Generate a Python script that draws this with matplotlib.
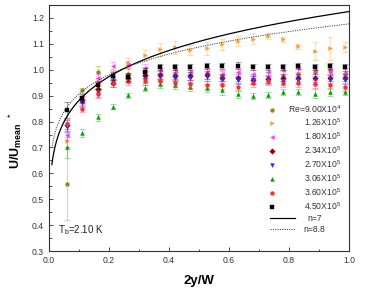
import numpy as np
import matplotlib
matplotlib.use("Agg")
import matplotlib.pyplot as plt
from matplotlib.legend_handler import HandlerLine2D

plt.rcParams["font.family"] = ["Liberation Sans", "DejaVu Sans"]
plt.rcParams["mathtext.fontset"] = "custom"
plt.rcParams["mathtext.rm"] = "Liberation Sans"
plt.rcParams["mathtext.bf"] = "Liberation Sans:bold"
plt.rcParams["mathtext.it"] = "Liberation Sans:italic"

x = [0.06, 0.11, 0.165, 0.215, 0.265, 0.32, 0.37, 0.42, 0.47, 0.525,
     0.575, 0.63, 0.68, 0.73, 0.78, 0.83, 0.885, 0.935, 0.985]

labels = ["Re=9.00X10$^4$", "1.26X10$^5$", "1.80X10$^5$", "2.34X10$^5$",
          "2.70X10$^5$", "3.06X10$^5$", "3.60X10$^5$", "4.50X10$^5$"]

re090 = [0.56, 0.92, 0.99, 0.977, 0.985, 0.99, 0.985, 0.985, 0.98, 0.985,
         0.975, 0.97, 0.965, 0.97, 0.976, 0.985, 0.99, 0.999, 0.985]
re126 = [0.725, 0.88, 0.95, 0.98, 1.025, 1.055, 1.079, 1.087, 1.076, 1.083,
         1.098, 1.110, 1.120, 1.130, 1.117, 1.090, 1.072, 1.082, 1.088]
re180 = [0.75, 0.875, 0.969, 1.016, 1.018, 1.008, 0.998, 0.998, 0.99, 0.993,
         0.985, 0.99, 0.985, 0.99, 1.0, 1.005, 1.0, 0.99, 0.986]
re234 = [0.785, 0.885, 0.925, 0.95, 0.967, 0.98, 0.98, 0.975, 0.975, 0.98,
         0.97, 0.97, 0.96, 0.965, 0.97, 0.97, 0.967, 0.97, 0.97]
re270 = [0.78, 0.87, 0.91, 0.955, 0.965, 0.965, 0.972, 0.97, 0.968, 0.972,
         0.965, 0.96, 0.96, 0.96, 0.955, 0.96, 0.96, 0.965, 0.96]
re306 = [0.70, 0.755, 0.816, 0.857, 0.902, 0.93, 0.945, 0.94, 0.932, 0.93,
         0.922, 0.905, 0.90, 0.903, 0.913, 0.915, 0.908, 0.913, 0.913]
re360 = [0.79, 0.85, 0.905, 0.947, 0.955, 0.955, 0.955, 0.95, 0.945, 0.94,
         0.94, 0.932, 0.948, 0.955, 0.95, 0.95, 0.945, 0.94, 0.934]
re450 = [0.845, 0.89, 0.94, 0.975, 0.972, 0.99, 1.01, 1.012, 1.012, 1.014,
         1.015, 1.016, 1.012, 1.012, 1.012, 1.014, 1.012, 1.015, 1.009]

err090 = [0.14, 0.01, 0.025, 0.02, 0.02, 0.02, 0.02, 0.02, 0.02, 0.02,
          0.02, 0.02, 0.02, 0.02, 0.02, 0.02, 0.02, 0.02, 0.02]
err126 = [0.03, 0.02, 0.02, 0.02, 0.02, 0.02, 0.025, 0.025, 0.02, 0.025,
          0.02, 0.02, 0.02, 0.012, 0.01, 0.01, 0.035, 0.045, 0.02]
err_small = [0.02, 0.015, 0.015, 0.015, 0.015, 0.015, 0.015, 0.015, 0.015, 0.015,
             0.015, 0.015, 0.015, 0.015, 0.015, 0.015, 0.015, 0.015, 0.015]
err306 = [0.04, 0.015, 0.015, 0.01, 0.01, 0.012, 0.015, 0.015, 0.015, 0.015,
          0.02, 0.015, 0.012, 0.012, 0.012, 0.012, 0.018, 0.015, 0.012]
err450 = [0.03, 0.015, 0.015, 0.015, 0.015, 0.015, 0.012, 0.012, 0.012, 0.012,
          0.012, 0.012, 0.012, 0.012, 0.012, 0.012, 0.012, 0.012, 0.012]

series = [re090, re126, re180, re234, re270, re306, re360, re450]
errors = [err090, err126, err_small, err_small, err_small, err306, err_small, err450]
colors = ["#8c8c1e", "#ff9a2e", "#ff33ff", "#990000", "#2a2aff", "#00a000", "#ff2a2a", "#000000"]
markers = ["o", ">", "<", "D", "v", "^", "o", "s"]

n_values = [7, 8.8]
n_labels = ["n=7", "n=8.8"]


class LeftMarker(HandlerLine2D):
    def create_artists(self, legend, orig_handle, xdescent, ydescent,
                       width, height, fontsize, trans):
        return super().create_artists(legend, orig_handle, xdescent, ydescent,
                                      width * 0.16, height, fontsize, trans)


fig = plt.figure(figsize=(3.73, 2.91), dpi=100)
ax = fig.add_axes([0.131, 0.137, 0.805, 0.846])

handles = []
hmap = {}
for ys, es, c, m, lab in zip(series, errors, colors, markers, labels):
    ax.errorbar(x, ys, yerr=es, fmt="none", ecolor=c, alpha=0.35,
                elinewidth=0.8, capsize=2, capthick=0.8)
    h, = ax.plot(x, ys, linestyle="none", marker=m, color=c,
                 markersize=2.8, markeredgewidth=0.3, label=lab)
    handles.append(h)
    hmap[h] = LeftMarker(numpoints=1)

xx = np.linspace(0.01, 1.0, 300)
for n, lab, ls in zip(n_values, n_labels, ["-", (0, (1.2, 1.2))]):
    ratio = 2 * n * n / ((n + 1) * (2 * n + 1))
    h, = ax.plot(xx, xx ** (1.0 / n) / ratio, color="black" if ls == "-" else "#444444",
                 linestyle=ls, linewidth=0.9 if ls == "-" else 0.7, label=lab)
    handles.append(h)

ax.set_xlim(0, 1.0)
ax.set_ylim(0.3, 1.25)
ax.set_xticks([0, 0.2, 0.4, 0.6, 0.8, 1.0])
ax.set_xticks([0.1, 0.3, 0.5, 0.7, 0.9], minor=True)
ax.set_yticks([0.3, 0.4, 0.5, 0.6, 0.7, 0.8, 0.9, 1.0, 1.1, 1.2])
ax.set_yticks(np.arange(0.35, 1.25, 0.1), minor=True)
ax.tick_params(which="both", direction="in", labelsize=6.2, colors="#333333", width=0.6)
ax.tick_params(which="major", length=3)
ax.tick_params(which="minor", length=1.8)
for s in ax.spines.values():
    s.set_linewidth(0.8)
    s.set_color("#333333")

ax.set_xlabel("2y/W", fontsize=9.5, fontweight="bold", labelpad=7)
ax.set_ylabel(r"$\mathbf{U/U}_{\mathbf{mean}}{}^{\ \ *}$", fontsize=9)
ax.yaxis.set_label_coords(-0.082, 0.45)

ax.text(0.03, 0.37, r"T$_\mathrm{b}$=2.10 K", fontsize=7, color="#222222")

leg = ax.legend(handles=handles, handler_map=hmap, loc="lower left",
                bbox_to_anchor=(0.735, 0.07), frameon=False, fontsize=6.2,
                handlelength=3.0, labelspacing=0.25, handletextpad=-0.9,
                borderaxespad=0.0, borderpad=0.0)
texts = leg.get_texts()
for t in texts:
    t.set_color("#333333")

fig.canvas.draw()
renderer = fig.canvas.get_renderer()
widths = [t.get_window_extent(renderer).width for t in texts]
maxw = max(widths)
for i, (t, w) in enumerate(zip(texts, widths)):
    if i < len(labels):
        t.set_x(maxw - w)
    else:
        t.set_x((maxw - w) / 2)

fig.savefig("out.png", dpi=100)
